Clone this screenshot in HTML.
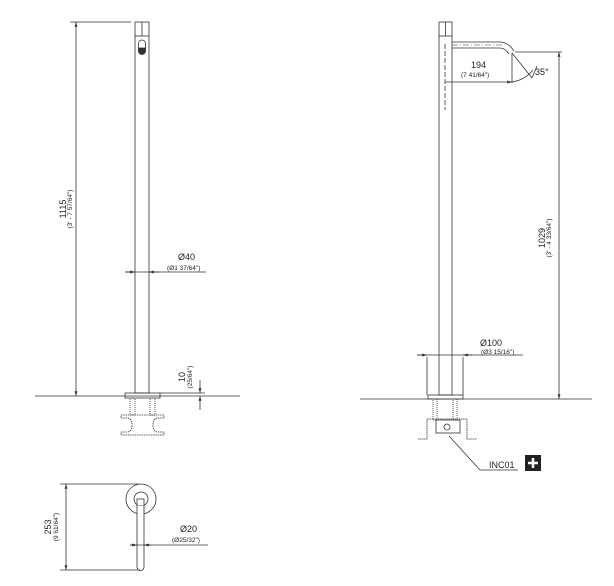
<!DOCTYPE html>
<html><head><style>body{margin:0;background:#fff}svg{display:block}text{font-family:"Liberation Sans",sans-serif;fill:#222}</style></head>
<body>
<svg width="614" height="586" viewBox="0 0 614 586" xmlns="http://www.w3.org/2000/svg">
<defs><marker id="a" viewBox="0 0 10 10" refX="10" refY="5" markerWidth="6" markerHeight="6" orient="auto-start-reverse"><path d="M0,2 L10,5 L0,8z" fill="#333"/></marker></defs>
<g stroke="#333" stroke-width="0.8" fill="none">
<!-- ground -->
<line x1="35" y1="396" x2="240" y2="396"/>
<line x1="360" y1="399" x2="592" y2="399"/>
<!-- left faucet -->
<rect x="135" y="22" width="14" height="371" fill="#fff"/>
<line x1="135" y1="36" x2="149" y2="36"/>
<line x1="142" y1="22" x2="142" y2="36"/>
<rect x="138.5" y="40" width="7" height="14" rx="3.5"/>
<path d="M138.5,48 h7 v3 a3.5,3.5 0 0 1 -7,0z" fill="#333"/>
<rect x="125" y="393" width="35" height="5"/>
<rect x="130" y="398" width="5" height="17" stroke-dasharray="1,1"/>
<rect x="150" y="398" width="5" height="17" stroke-dasharray="1,1"/>
<path d="M121,415 h43 v3 h-6 q-5,0 -5,7 q0,7 5,7 h6 v3 h-43 v-3 h6 q5,0 5,-7 q0,-7 -5,-7 h-6z" stroke-dasharray="1.5,0.8"/>
<!-- left dims -->
<line x1="70" y1="22" x2="131" y2="22"/>
<line x1="76" y1="22" x2="76" y2="396" marker-start="url(#a)" marker-end="url(#a)"/>
<line x1="125" y1="272" x2="206" y2="272"/>
<line x1="125" y1="272" x2="135" y2="272" marker-end="url(#a)"/>
<line x1="159" y1="272" x2="149" y2="272" marker-end="url(#a)"/>
<line x1="160" y1="393" x2="205" y2="393"/>
<line x1="200" y1="380" x2="200" y2="393" marker-end="url(#a)"/>
<line x1="200" y1="410" x2="200" y2="396" marker-end="url(#a)"/>
<!-- right faucet -->
<rect x="439" y="22" width="13" height="373" fill="#fff"/>
<line x1="439" y1="36" x2="452" y2="36"/>
<line x1="445.5" y1="22" x2="445.5" y2="36"/>
<path d="M452,42 H500 Q508,42 514,51"/>
<path d="M452,48 H500 Q505,48 509,54"/>
<line x1="452" y1="45" x2="503" y2="45" stroke-dasharray="6,2,1,2" stroke-width="0.5"/>
<line x1="445" y1="44" x2="445" y2="110" stroke-dasharray="5,2"/>
<line x1="512" y1="53" x2="512" y2="83"/>
<line x1="445" y1="82" x2="512" y2="82" marker-end="url(#a)"/>
<line x1="512" y1="53" x2="532" y2="78"/>
<path d="M512,82 Q525,80 533,70"/>
<line x1="532" y1="78" x2="537" y2="66"/>
<line x1="515" y1="52" x2="562" y2="52"/>
<line x1="559" y1="52" x2="559" y2="399" marker-start="url(#a)" marker-end="url(#a)"/>
<line x1="427" y1="357" x2="427" y2="395"/>
<line x1="463" y1="357" x2="463" y2="395"/>
<line x1="417" y1="355" x2="523" y2="355"/>
<line x1="417" y1="355" x2="427" y2="355" marker-end="url(#a)"/>
<line x1="472" y1="355" x2="463" y2="355" marker-end="url(#a)"/>
<rect x="428" y="395" width="35" height="4"/>
<rect x="433" y="399" width="4" height="21" stroke-dasharray="1,1"/>
<rect x="453" y="399" width="4" height="21" stroke-dasharray="1,1"/>
<path d="M418,439 H427 V419 H467 V439 H477" stroke-dasharray="1.5,0.6"/>
<rect x="436" y="420" width="24" height="13"/>
<circle cx="447" cy="427" r="3"/>
<line x1="449" y1="436" x2="480" y2="470"/>
<line x1="480" y1="470" x2="518" y2="470"/>
<!-- bottom view -->
<circle cx="141" cy="499" r="15"/>
<circle cx="141" cy="499" r="7"/>
<rect x="137" y="499" width="7" height="7" fill="#fff"/>
<path d="M137,506 V567 a3.5,3.5 0 0 0 7,0 V506" fill="#fff"/>
<line x1="60" y1="484" x2="139" y2="484"/>
<line x1="60" y1="570" x2="140" y2="570"/>
<line x1="66" y1="484" x2="66" y2="570" marker-start="url(#a)" marker-end="url(#a)"/>
<line x1="130" y1="545" x2="208" y2="545"/>
<line x1="130" y1="545" x2="137" y2="545" marker-end="url(#a)"/>
<line x1="151" y1="545" x2="144" y2="545" marker-end="url(#a)"/>
</g>
<g font-size="9">
<text transform="translate(66,209) rotate(-90)" text-anchor="middle">1115</text>
<text transform="translate(72,209) rotate(-90)" text-anchor="middle" font-size="6.5">(3' - 7 57/64")</text>
<text x="178" y="260" font-size="9">Ø40</text>
<text x="167" y="270" font-size="6.5">(Ø1 37/64")</text>
<text transform="translate(185,377) rotate(-90)" text-anchor="middle">10</text>
<text transform="translate(192,377) rotate(-90)" text-anchor="middle" font-size="6.5">(25/64")</text>
<text x="471" y="68">194</text>
<text x="461" y="77" font-size="6.5">(7 41/64")</text>
<text x="535" y="75">35°</text>
<text transform="translate(545,238) rotate(-90)" text-anchor="middle">1029</text>
<text transform="translate(551,238) rotate(-90)" text-anchor="middle" font-size="6.5">(3' - 4 33/64")</text>
<text x="480" y="346">Ø100</text>
<text x="481" y="354" font-size="6.5">(Ø3 15/16")</text>
<text x="489" y="468">INC01</text>
<text transform="translate(51,527) rotate(-90)" text-anchor="middle">253</text>
<text transform="translate(58,527) rotate(-90)" text-anchor="middle" font-size="6.5">(9 61/64")</text>
<text x="180" y="532">Ø20</text>
<text x="172" y="542" font-size="6.5">(Ø25/32")</text>
</g>
<rect x="525" y="455" width="16" height="16" fill="#222"/>
<path d="M533,458 v10 M528,463 h10" stroke="#fff" stroke-width="2.5"/>
</svg>
</body></html>
